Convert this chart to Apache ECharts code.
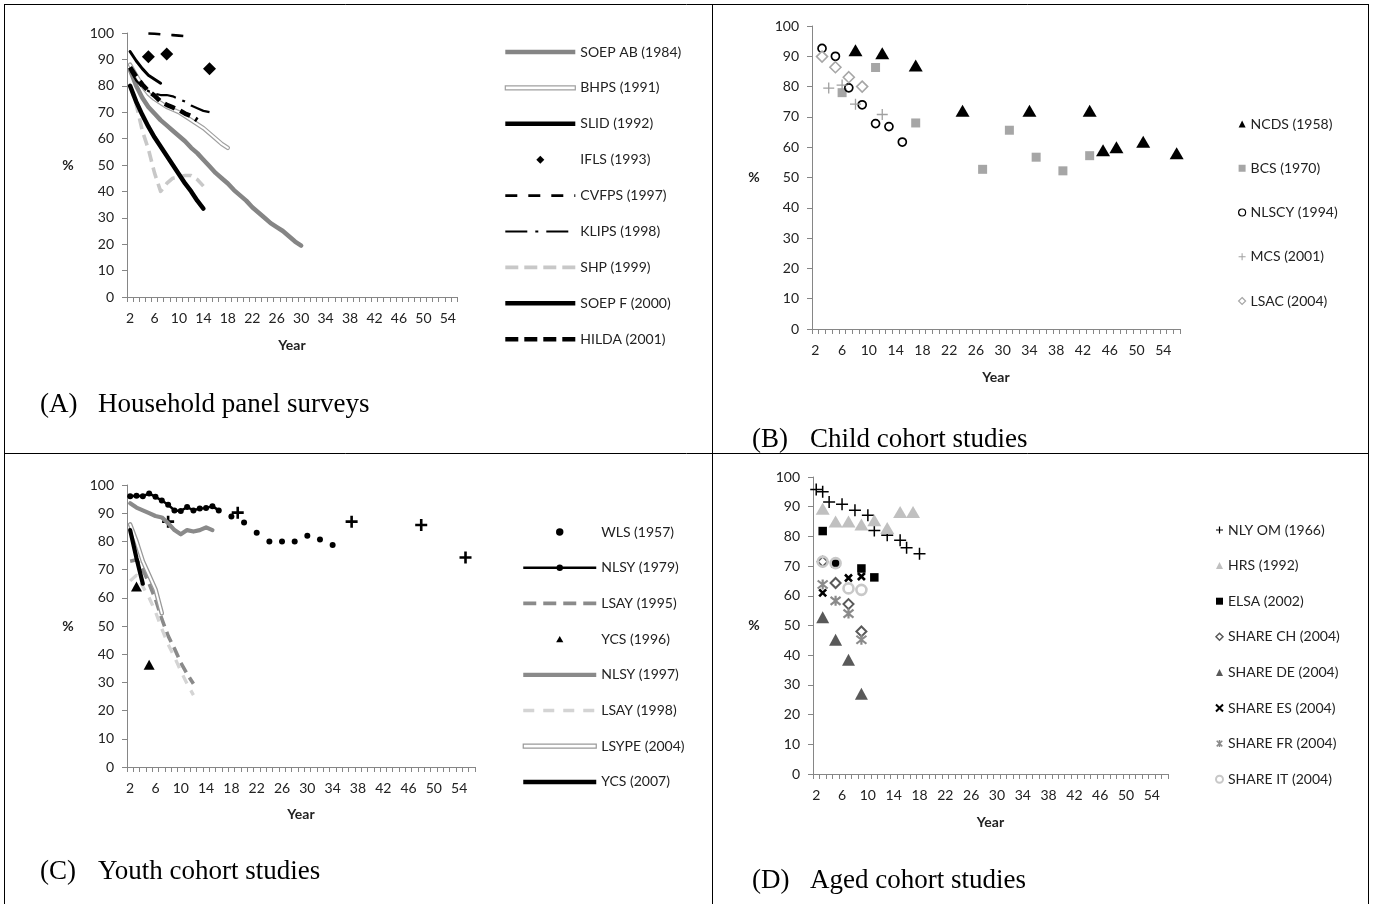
<!DOCTYPE html>
<html><head><meta charset="utf-8">
<script src="https://cdn.jsdelivr.net/npm/echarts/dist/echarts.min.js"></script>
<style>html,body{margin:0;padding:0;background:#fff}#c{width:1373px;height:904px}</style>
</head><body><div id="c"></div>
<script>
// ---- axis categories (year of study) ----
const catsA = ['2','3','4','5','6','7','8','9','10','11','12','13','14','15','16','17','18','19','20','21','22','23','24','25','26','27','28','29','30','31','32','33','34','35','36','37','38','39','40','41','42','43','44','45','46','47','48','49','50','51','52','53','54','55'];
const cats = ['2','3','4','5','6','7','8','9','10','11','12','13','14','15','16','17','18','19','20','21','22','23','24','25','26','27','28','29','30','31','32','33','34','35','36','37','38','39','40','41','42','43','44','45','46','47','48','49','50','51','52','53','54','55','56'];

// ---- (A) Household panel surveys ----
const soepAB = [[2,86],[3,80],[4,75.5],[5,72],[6,69.5],[7,67],[8,65],[9,63],[10,61],[11,59],[12,56.5],[13,54.5],[14,52],[15,49.5],[16,47],[17,45],[18,43],[19,40.5],[20,38.5],[21,36.5],[22,34],[23,32],[24,30],[25,28],[26,26.5],[27,25],[28,23],[29,21],[30,19.5]];
const bhps = [[2,88],[3,84],[4,80],[5,77],[6,75],[7,73.5],[8,72],[9,71],[10,70],[11,68.5],[12,67],[13,65.5],[14,64],[15,62],[16,60],[17,58],[18,56.5]];
const slid = [[2,93],[3,89.5],[4,86.5],[5,84],[6,82.5],[7,81]];
const ifls = [[5,91],[8,92],[15,86.5]];
const cvfps = [[5,99.8],[6,99.7],[7,99.5],[8,99.3],[9,99.2],[10,99],[11,98.8]];
const klips = [[2,86],[3,82],[4,79.5],[5,78],[6,77],[7,76.5],[8,76.5],[9,76],[10,75],[11,74],[12,72.5],[13,71.5],[14,70.5],[15,70]];
const shp = [[2,80],[3,73],[4,63],[5,56],[6,47],[7,40],[8,43],[9,45],[10,45.5],[11,46],[12,46],[13,44.5],[14,42]];
const soepF = [[2,80],[3,74],[4,69],[5,64.5],[6,60.5],[7,57],[8,53.5],[9,50],[10,46.5],[11,43],[12,40],[13,36.5],[14,33.5]];
const hilda = [[2,87],[3,83.5],[4,80.5],[5,78],[6,76.3],[7,74],[8,72.8],[9,71.8],[10,70.8],[11,69.5],[12,68.5],[13,67]];

// ---- (B) Child cohort studies ----
const ncds = [[8,92],[12,91],[17,87],[24,72],[34,72],[43,72],[45,59],[47,60],[51,61.8],[56,58]];
const bcs = [[6,78],[11,86.3],[17,68],[27,52.7],[31,65.6],[35,56.7],[39,52.2],[43,57.2]];
const nlscy = [[3,92.6],[5,90],[7,79.6],[9,74],[11,67.8],[13,66.8],[15,61.7]];
const mcs = [[4,79.5],[6,80.5],[8,74.2],[12,70.8]];
const lsac = [[3,89.9],[5,86.4],[7,83.1],[9,80]];

// ---- (C) Youth cohort studies ----
const wls = [[8,87],[19,90.2],[37,87],[48,85.8],[55,74.3]];
const nlsy79 = [[2,96],[3,96.2],[4,96],[5,97],[6,95.8],[7,94.5],[8,93],[9,91],[10,90.8],[11,92.2],[12,91],[13,91.7],[14,91.8],[15,92.5],[16,91],[18,88.8],[20,86.7],[22,83.1],[24,80],[26,80],[28,80],[30,82],[32,80.7],[34,78.7]];
const lsay95 = [[2,73],[3,73.5],[4,70],[5,65],[6,59.5],[7,52.5],[8,46.5],[9,42],[10,37],[11,33],[12,29.5]];
const ycs96 = [[3,64],[5,36.3]];
const nlsy97 = [[2,93.5],[3,92],[4,91],[5,90],[6,89],[7,88.5],[8,86.5],[9,84],[10,82.5],[11,84],[12,83.5],[13,84],[14,85],[15,84]];
const lsay98 = [[2,66],[3,68],[4,64],[5,60],[6,55],[7,49],[8,43.5],[9,39],[10,34],[11,29.5],[12,25.5]];
const lsype = [[2,86],[3,80],[4,73],[5,68],[6,63],[7,54.5]];
const ycs07 = [[2,84],[3,74],[4,65]];

// ---- (D) Aged cohort studies ----
const nlyom = [[2,95.8],[3,95],[4,91.6],[6,90.8],[8,88.8],[10,87.1],[11,82],[13,80.4],[15,78.7],[16,76.2],[18,74.2]];
const hrs = [[3,89.3],[5,85],[7,85],[9,84],[11,85.4],[13,82.8],[15,88.2],[17,88.2]];
const elsa = [[3,81.8],[5,70.8],[9,69.2],[11,66.2]];
const shareCH = [[3,71.5],[5,64.3],[7,57.2],[9,48]];
const shareDE = [[3,52.8],[5,45.2],[7,38.5],[9,27]];
const shareES = [[3,61],[7,66],[9,66.5]];
const shareFR = [[3,63.8],[5,58.3],[7,54],[9,45.2]];
const shareIT = [[3,71.5],[5,71],[7,62.5],[9,62]];

// ---- helpers ----
const FONT = 'Lato';
const TXT = '#222';
const AX = '#868686';
const PLUS = 'path://M5,0L5,10M0,5L10,5';
const XMARK = 'path://M0,0L10,10M10,0L0,10';
const AST = 'path://M1,1L9,9M9,1L1,9M5,0L5,10';
const CLEAR = 'rgba(0,0,0,0)';
const pairs = d => d.map(p => [String(p[0]), p[1]]);

function line(name, gi, data, ls, extra) {
  return Object.assign({
    type: 'line', name: name, xAxisIndex: gi, yAxisIndex: gi, data: pairs(data),
    symbol: 'none', silent: true, animation: false,
    lineStyle: Object.assign({cap: 'round', join: 'round', opacity: 1}, ls)
  }, extra || {});
}
function scat(name, gi, data, symbol, size, style) {
  return {type: 'scatter', name: name, xAxisIndex: gi, yAxisIndex: gi, data: pairs(data),
    symbol: symbol, symbolSize: size, itemStyle: Object.assign({opacity: 1}, style),
    silent: true, animation: false};
}
// NLSY79: annual then biennial -> gaps break the line
const nlsyMap = {}; nlsy79.forEach(p => { nlsyMap[String(p[0])] = p[1]; });
const nlsy79Full = cats.map(c => (c in nlsyMap ? nlsyMap[c] : '-'));

const grids = [
  {left: 127, top: 33, width: 330, height: 264},
  {left: 812, top: 26, width: 368, height: 303},
  {left: 127, top: 485, width: 348, height: 282},
  {left: 813, top: 477, width: 355, height: 297}
];
const yNameGap = [59, 58, 59, 59];
const xNameGap = [48, 48, 47, 48];

const xAxes = grids.map((g, i) => ({
  type: 'category', gridIndex: i, data: i === 0 ? catsA : cats, boundaryGap: true,
  axisLine: {lineStyle: {color: AX, width: 1}},
  axisTick: {show: true, interval: 0, length: 5, lineStyle: {color: AX}},
  axisLabel: {interval: 3, margin: 14, fontFamily: FONT, fontSize: 14, color: TXT},
  splitLine: {show: false},
  name: 'Year', nameLocation: 'middle', nameGap: xNameGap[i],
  nameTextStyle: {fontFamily: FONT, fontSize: 14, fontWeight: 'bold', color: TXT, verticalAlign: 'middle'}
}));
const yAxes = grids.map((g, i) => ({
  type: 'value', gridIndex: i, min: 0, max: 100, interval: 10,
  axisLine: {show: true, lineStyle: {color: AX, width: 1}},
  axisTick: {show: true, length: 5, lineStyle: {color: AX}},
  axisLabel: {margin: 13, fontFamily: FONT, fontSize: 14, color: TXT},
  splitLine: {show: false},
  name: '%', nameLocation: 'middle', nameRotate: 0, nameGap: yNameGap[i],
  nameTextStyle: {fontFamily: FONT, fontSize: 14, fontWeight: 'bold', color: TXT, align: 'center', verticalAlign: 'middle'}
}));

const series = [
  // A
  line('SOEP AB (1984)', 0, soepAB, {color: '#858585', width: 4.5}),
  line('BHPS (1991)', 0, bhps, {color: '#a0a0a0', width: 4.4}),
  line('BHPS inner', 0, bhps, {color: '#ffffff', width: 2}),
  line('SLID (1992)', 0, slid, {color: '#000', width: 3}),
  scat('IFLS (1993)', 0, ifls, 'diamond', 13, {color: '#000'}),
  line('CVFPS (1997)', 0, cvfps, {color: '#000', width: 2.6, type: [12, 11], cap: 'butt'}),
  line('KLIPS (1998)', 0, klips, {color: '#000', width: 2.2, type: [20, 7, 3, 7], cap: 'butt'}),
  line('SHP (1999)', 0, shp, {color: '#c8c8c8', width: 3.6, type: [11, 6], cap: 'butt'}),
  line('SOEP F (2000)', 0, soepF, {color: '#000', width: 4.5}),
  line('HILDA (2001)', 0, hilda, {color: '#000', width: 4.6, type: [11, 6], cap: 'butt'}),
  // B
  scat('NCDS (1958)', 1, ncds, 'triangle', [14, 12], {color: '#000'}),
  scat('BCS (1970)', 1, bcs, 'rect', 9, {color: '#a6a6a6'}),
  scat('NLSCY (1994)', 1, nlscy, 'circle', 8, {color: CLEAR, borderColor: '#000', borderWidth: 1.7}),
  scat('MCS (2001)', 1, mcs, PLUS, 11, {color: CLEAR, borderColor: '#a0a0a0', borderWidth: 1.3}),
  scat('LSAC (2004)', 1, lsac, 'diamond', 11, {color: '#fff', borderColor: '#a6a6a6', borderWidth: 1.6}),
  // C
  scat('WLS (1957)', 2, wls, PLUS, 12, {color: CLEAR, borderColor: '#000', borderWidth: 2.6}),
  {type: 'line', name: 'NLSY (1979)', xAxisIndex: 2, yAxisIndex: 2, data: nlsy79Full,
    symbol: 'circle', symbolSize: 6, showSymbol: true, showAllSymbol: true, connectNulls: false,
    itemStyle: {color: '#000', opacity: 1}, lineStyle: {color: '#000', width: 2.5, cap: 'round', join: 'round'},
    silent: true, animation: false},
  line('LSAY (1995)', 2, lsay95, {color: '#8a8a8a', width: 3.6, type: [11, 6], cap: 'butt'}),
  scat('YCS (1996)', 2, ycs96, 'triangle', [11, 10], {color: '#000'}),
  line('NLSY (1997)', 2, nlsy97, {color: '#8a8a8a', width: 4.2}),
  line('LSAY (1998)', 2, lsay98, {color: '#d4d4d4', width: 3.3, type: [9, 8], cap: 'butt'}),
  line('LSYPE (2004)', 2, lsype, {color: '#999999', width: 4.6}),
  line('LSYPE inner', 2, lsype, {color: '#ffffff', width: 2}),
  line('YCS (2007)', 2, ycs07, {color: '#000', width: 4.2}),
  // D
  scat('NLY OM (1966)', 3, nlyom, PLUS, 12, {color: CLEAR, borderColor: '#000', borderWidth: 1.5}),
  scat('HRS (1992)', 3, hrs, 'triangle', [14, 12], {color: '#c0c0c0'}),
  scat('ELSA (2002)', 3, elsa, 'rect', 8.5, {color: '#000'}),
  scat('SHARE CH (2004)', 3, shareCH, 'diamond', 10, {color: CLEAR, borderColor: '#595959', borderWidth: 2}),
  scat('SHARE DE (2004)', 3, shareDE, 'triangle', [13, 12], {color: '#595959'}),
  scat('SHARE ES (2004)', 3, shareES, XMARK, 7, {color: CLEAR, borderColor: '#000', borderWidth: 2.6}),
  scat('SHARE FR (2004)', 3, shareFR, AST, 10, {color: CLEAR, borderColor: '#8a8a8a', borderWidth: 2.2}),
  scat('SHARE IT (2004)', 3, shareIT, 'circle', 10, {color: CLEAR, borderColor: '#c8c8c8', borderWidth: 2.6})
];

const legText = {fontFamily: FONT, fontSize: 14, color: TXT, lineHeight: 16};
const hide = {opacity: 0};
const show = o => Object.assign({opacity: 1}, o);
const SMALLDOT = 'path://M0,0L0.01,0M10,10L10.01,10M5,1.6A3.4,3.4,0,1,1,4.99,1.6Z';
const legends = [
  {left: 503, top: 44, padding: 0, orient: 'vertical', itemWidth: 70, itemHeight: 8, itemGap: 19.9, selectedMode: false,
   textStyle: legText, itemStyle: hide,
   data: [
    {name: 'SOEP AB (1984)', lineStyle: {color: '#858585', width: 4.5, type: 'solid', cap: 'butt'}},
    {name: 'BHPS (1991)', icon: 'path://M0,0L70,0L70,4L0,4Z', itemStyle: show({color: '#fff', borderColor: '#a0a0a0', borderWidth: 1.2})},
    {name: 'SLID (1992)', lineStyle: {color: '#000', width: 4.5, type: 'solid', cap: 'butt'}},
    {name: 'IFLS (1993)', icon: 'path://M5,0L10,5L5,10L0,5Z', itemStyle: show({color: '#000'})},
    {name: 'CVFPS (1997)', lineStyle: {color: '#000', width: 2.6, type: [12, 11], cap: 'butt'}},
    {name: 'KLIPS (1998)', lineStyle: {color: '#000', width: 2.2, type: [22, 8, 3, 8], cap: 'butt'}},
    {name: 'SHP (1999)', lineStyle: {color: '#c8c8c8', width: 3.6, type: [13, 6], cap: 'butt'}},
    {name: 'SOEP F (2000)', lineStyle: {color: '#000', width: 4.5, type: 'solid', cap: 'butt'}},
    {name: 'HILDA (2001)', lineStyle: {color: '#000', width: 4.6, type: [13, 6], cap: 'butt'}}
   ]},
  {left: 1238, top: 116, padding: 0, orient: 'vertical', itemWidth: 7, itemHeight: 7, itemGap: 28.25, selectedMode: false,
   textStyle: legText,
   data: [
    {name: 'NCDS (1958)', itemStyle: {color: '#000', opacity: 1}},
    {name: 'BCS (1970)', itemStyle: {color: '#a6a6a6', opacity: 1}},
    {name: 'NLSCY (1994)', itemStyle: {color: CLEAR, borderColor: '#000', borderWidth: 1.2}},
    {name: 'MCS (2001)', itemStyle: {color: CLEAR, borderColor: '#a0a0a0', borderWidth: 1}},
    {name: 'LSAC (2004)', itemStyle: {color: '#fff', borderColor: '#a6a6a6', borderWidth: 1.2}}
   ]},
  {left: 521, top: 524, padding: 0, orient: 'vertical', itemWidth: 73, itemHeight: 8, itemGap: 19.7, selectedMode: false,
   textStyle: legText, itemStyle: hide,
   data: [
    {name: 'WLS (1957)', icon: SMALLDOT, itemStyle: show({color: '#000'})},
    {name: 'NLSY (1979)', itemStyle: show({color: '#000'}), lineStyle: {color: '#000', width: 2.5, type: 'solid', cap: 'butt'}},
    {name: 'LSAY (1995)', lineStyle: {color: '#8a8a8a', width: 3.6, type: [13, 7], cap: 'butt'}},
    {name: 'YCS (1996)', icon: 'path://M0,0L0.01,0M10,10L10.01,10M5,1L9.5,9L0.5,9Z', itemStyle: show({color: '#000'})},
    {name: 'NLSY (1997)', lineStyle: {color: '#8a8a8a', width: 4.2, type: 'solid', cap: 'butt'}},
    {name: 'LSAY (1998)', lineStyle: {color: '#d4d4d4', width: 3.3, type: [11, 9], cap: 'butt'}},
    {name: 'LSYPE (2004)', icon: 'path://M0,0L73,0L73,4L0,4Z', itemStyle: show({color: '#fff', borderColor: '#999', borderWidth: 1.2})},
    {name: 'YCS (2007)', lineStyle: {color: '#000', width: 4.5, type: 'solid', cap: 'butt'}}
   ]},
  {left: 1215, top: 522, padding: 0, orient: 'vertical', itemWidth: 7, itemHeight: 7, itemGap: 19.6, selectedMode: false,
   textStyle: legText,
   data: [
    {name: 'NLY OM (1966)', itemStyle: {color: CLEAR, borderColor: '#000', borderWidth: 1.2}},
    {name: 'HRS (1992)', itemStyle: {color: '#c0c0c0', opacity: 1}},
    {name: 'ELSA (2002)', itemStyle: {color: '#000', opacity: 1}},
    {name: 'SHARE CH (2004)', itemStyle: {color: CLEAR, borderColor: '#595959', borderWidth: 1.5}},
    {name: 'SHARE DE (2004)', itemStyle: {color: '#595959', opacity: 1}},
    {name: 'SHARE ES (2004)', itemStyle: {color: CLEAR, borderColor: '#000', borderWidth: 2}},
    {name: 'SHARE FR (2004)', itemStyle: {color: CLEAR, borderColor: '#8a8a8a', borderWidth: 1.5}},
    {name: 'SHARE IT (2004)', itemStyle: {color: CLEAR, borderColor: '#c8c8c8', borderWidth: 2}}
   ]}
];

const SERIF = '27px "Liberation Serif", "Times New Roman", serif';
function ttl(x, y, t) {
  return {type: 'text', x: x, y: y, silent: true,
    style: {text: t, font: SERIF, fill: '#000', verticalAlign: 'middle', textVerticalAlign: 'middle'}};
}
function ln(x1, y1, x2, y2) {
  return {type: 'line', silent: true, shape: {x1: x1, y1: y1, x2: x2, y2: y2}, style: {stroke: '#000', lineWidth: 1}};
}
const graphic = [
  ln(4, 4.5, 1369, 4.5), ln(4.5, 4, 4.5, 904), ln(1368.5, 4, 1368.5, 904),
  ln(712.5, 4, 712.5, 904), ln(4, 453.5, 1369, 453.5),
  ttl(40, 405, '(A)'), ttl(98, 405, 'Household panel surveys'),
  ttl(752, 440, '(B)'), ttl(810, 440, 'Child cohort studies'),
  ttl(40, 872, '(C)'), ttl(98, 872, 'Youth cohort studies'),
  ttl(752, 881, '(D)'), ttl(810, 881, 'Aged cohort studies')
];

const chart = echarts.init(document.getElementById('c'), null, {renderer: 'canvas'});
chart.setOption({
  backgroundColor: '#fff',
  animation: false,
  grid: grids.map(g => Object.assign({outerBoundsMode: 'none', containLabel: false}, g)),
  xAxis: xAxes,
  yAxis: yAxes,
  legend: legends,
  tooltip: {show: false},
  series: series,
  graphic: graphic
});
</script>
</body></html>
